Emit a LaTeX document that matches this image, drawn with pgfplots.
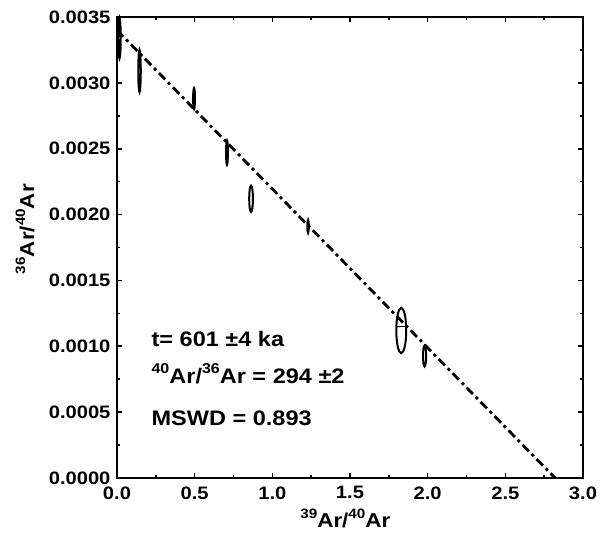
\documentclass[border=0pt]{standalone}
\usepackage{fontspec}
\setmainfont{Liberation Sans}[FakeStretch=1.12]
\usepackage{graphicx}
\usepackage{pgfplots}
\usepackage{pgfplotstable}
\pgfplotsset{compat=1.18}
\usetikzlibrary{calc}
\newcommand{\sups}[1]{\raisebox{0.45em}{\scalebox{0.68}{#1}}}
\pgfdeclareplotmark{ell}{\pgfpathellipse{\pgfpointorigin}{\pgfpoint{\rx pt}{0pt}}{\pgfpoint{0pt}{\ry pt}}\pgfusepathqstroke}
\pgfplotstableread{
x y hx hy
0.016 0.00334 0.008 0.000155
0.145 0.00309 0.008 0.000160
0.496 0.00288 0.006 0.000080
0.708 0.00247 0.006 0.000092
0.863 0.00212 0.012 0.000100
1.23 0.00191 0.005 0.000048
1.83 0.00112 0.032 0.000172
1.98 0.000926 0.010 0.000080
}\ellipses
\begin{document}
\begin{tikzpicture}
\begin{axis}[name=ax, scale only axis, width=466pt, height=461pt,
  xmin=0, xmax=3, ymin=0, ymax=0.0035,
  xtick={0,0.5,1,1.5,2,2.5,3},
  ytick={0,0.0005,0.001,0.0015,0.002,0.0025,0.003,0.0035},
  minor x tick num=1, minor y tick num=1,
  axis line style={line width=2.2pt},
  major tick length=5pt, minor tick length=3pt,
  every tick/.style={line width=1.6pt, black},
  scaled y ticks=false, scaled x ticks=false,
  /pgf/number format/assume math mode=true,
  ticklabel style={font=\bfseries\fontsize{18}{18}\selectfont},
  xticklabel style={yshift=-5pt,/pgf/number format/.cd,fixed,fixed zerofill,precision=1},
  yticklabel style={xshift=-3pt,/pgf/number format/.cd,fixed,fixed zerofill,precision=4},
  xlabel={\sups{39}Ar/\sups{40}Ar},
  ylabel={\sups{36}Ar/\sups{40}Ar},
  label style={font=\bfseries\fontsize{20}{20}\selectfont},
  xlabel style={at={(axis description cs:0.49,-0.108)}, anchor=base},
  ylabel style={at={(axis description cs:-0.197,0.54)}, anchor=center},
  clip=false,
]
\addplot[black, line width=2.8pt, dash pattern=on 9pt off 4pt on 3pt off 4pt] coordinates {(0,0.0034) (2.82,0)};
\addplot[only marks, mark=ell, black, line width=2pt,
  visualization depends on={155.333*\thisrow{hx} \as \rx},
  visualization depends on={131714*\thisrow{hy} \as \ry}] table[x=x,y=y] {\ellipses};
\addplot[only marks, mark=-, mark size=5.5pt, black, mark options={line width=1.6pt}] coordinates {(1.83,0.00115)};
\node[anchor=base west, font=\bfseries\fontsize{21}{21}\selectfont] at (axis cs:0.2,0.000995) {t= 601 ±4 ka};
\node[anchor=base west, font=\bfseries\fontsize{21}{21}\selectfont] at (axis cs:0.2,0.000721) {\sups{40}Ar/\sups{36}Ar = 294 ±2};
\node[anchor=base west, font=\bfseries\fontsize{21}{21}\selectfont] at (axis cs:0.2,0.000402) {MSWD = 0.893};
\end{axis}
\pgfresetboundingbox
\path[use as bounding box] ($(ax.south west)+(-117pt,-60pt)$) rectangle ($(ax.north east)+(19pt,17pt)$);
\end{tikzpicture}
\end{document}
